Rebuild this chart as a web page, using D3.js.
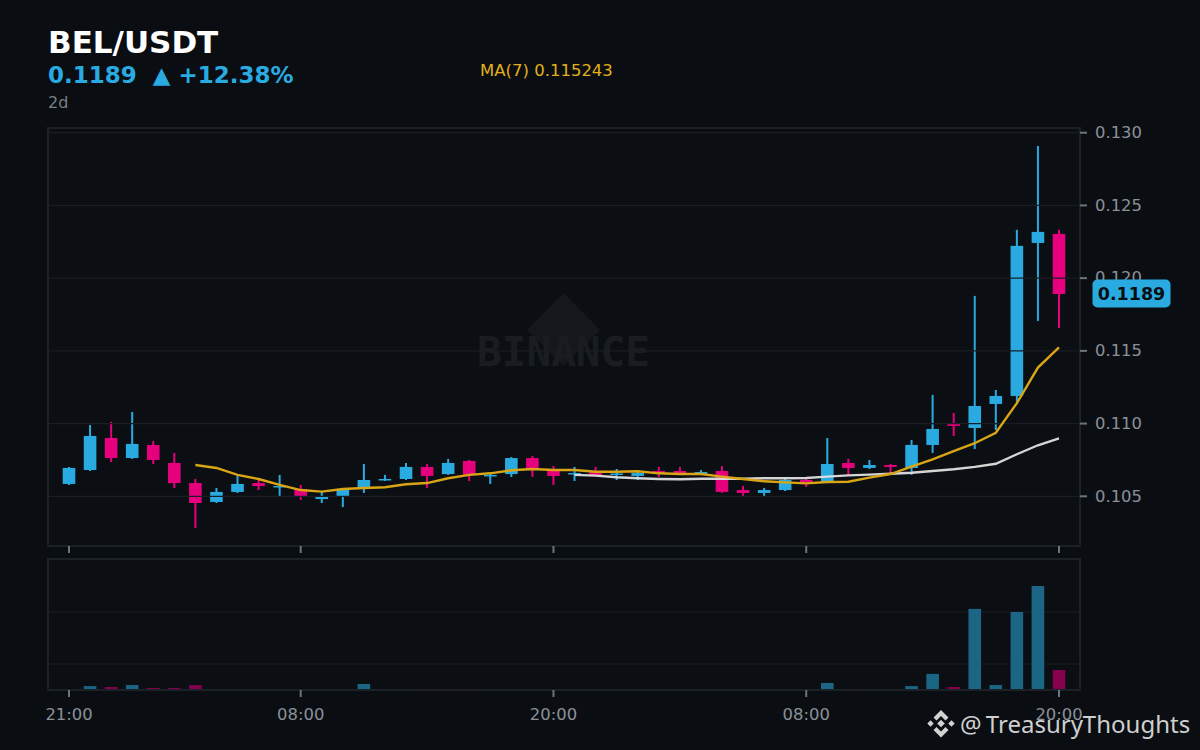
<!DOCTYPE html>
<html>
<head>
<meta charset="utf-8">
<script src="https://cdn.jsdelivr.net/npm/d3@7"></script>
<style>
  html, body { margin: 0; padding: 0; background: #0a0e12; }
  svg { display: block; font-family: "DejaVu Sans", sans-serif; }
</style>
</head>
<body>
<svg id="chart" width="1200" height="750"></svg>
<script>
// hourly candles, 48 of them
const opens = [.10585,.10681,.10901,.10763,.10853,.10729,.10591,.10461,.10530,.10591,.10564,.10550,.10481,.10502,.10557,.10612,.10619,.10702,
  .10653,.10743,.10640,.10653,.10763,.10681,.10653,.10667,.10650,.10640,.10674,.10674,.10653,.10674,.10543,.10523,.10543,.10612,
  .10598,.10729,.10695,.10715,.10695,.10853,.10997,.10970,.11135,.11190,.12242,.12304];
const closes = [.10695,.10915,.10763,.10860,.10750,.10591,.10454,.10530,.10585,.10571,.10571,.10502,.10495,.10550,.10612,.10619,.10702,.10640,
  .10729,.10647,.10647,.10763,.10681,.10640,.10660,.10640,.10657,.10660,.10660,.10653,.10667,.10530,.10523,.10543,.10612,.10591,
  .10722,.10695,.10715,.10702,.10853,.10963,.10984,.11121,.11190,.12222,.12318,.11891];
const highs = [.10702,.10990,.11012,.11080,.10881,.10798,.10619,.10557,.10647,.10612,.10647,.10578,.10530,.10557,.10722,.10647,.10729,.10722,
  .10757,.10750,.10667,.10770,.10777,.10708,.10702,.10702,.10688,.10674,.10702,.10702,.10681,.10708,.10571,.10557,.10626,.10619,
  .10901,.10757,.10750,.10722,.10887,.11197,.11073,.11878,.11231,.12332,.12909,.12332];
const lows = [.10578,.10674,.10736,.10757,.10722,.10557,.10282,.10454,.10523,.10543,.10502,.10475,.10454,.10426,.10523,.10605,.10612,.10557,
  .10647,.10605,.10585,.10633,.10633,.10578,.10605,.10640,.10612,.10612,.10633,.10647,.10647,.10523,.10502,.10495,.10536,.10564,
  .10591,.10647,.10688,.10653,.10647,.10798,.10915,.10825,.10956,.11135,.11706,.11658];
const volumes = [.01,.15,.115,.19,.08,.08,.19,.02,.02,.005,.02,.01,.02,.02,.23,.005,.04,.04,.005,.04,.015,.015,.01,.04,.015,
  .005,.005,.015,.015,.005,.005,.015,.005,.005,.005,.005,.27,.04,.015,.015,.15,.62,.115,3.12,.19,3.0,4.0,.77];

// moving averages, they only start once the window is full
const ma7Start = 6;
const ma7 = [.10715,.10695,.10647,.10619,.10578,.10543,.10532,.10550,.10557,.10562,.10583,.10591,.10624,.10647,.10658,.10679,.10688,.10681,
  .10681,.10669,.10669,.10672,.10658,.10653,.10653,.10635,.10619,.10603,.10596,.10589,.10598,.10600,.10628,.10653,.10704,.10754,.10810,.10865,.10937,.11140,.11385,.11524];
const ma25Start = 24;
const ma25 = [.10647,.10642,.10631,.10624,.10619,.10617,.10621,.10621,.10621,.10624,.10624,.10626,.10635,.10644,.10649,.10655,.10662,.10674,.10686,.10702,.10724,.10789,.10851,.10899];

const priceTicks = [.105,.110,.115,.120,.125,.130];
const volumeTicks = [1,3];
const timeTickIndex = [0,11,23,35,47];
const timeTickLabels = ["21:00","08:00","20:00","08:00","20:00"];

const UP = "#29abe2", DOWN = "#e6007e";
const GRID = "#1a1e24", SPINE = "#1c2127", TICK = "#6b7480", LABEL = "#8b9099";

const svg = d3.select("#chart");

// panels
const price = { left: 48, right: 1080, top: 128, bottom: 546 };
const vol = { left: 48, right: 1080, top: 559, bottom: 690 };

const x = d3.scaleLinear().domain([0, 47]).range([69, 1059]);
const y = d3.scaleLinear().domain([.105, .130]).range([496.3, 132.7]);
const yVol = d3.scaleLinear().domain([0, 5]).range([690, 560]);
const bodyW = 12.6;

svg.append("rect").attr("x", price.left).attr("y", price.top)
  .attr("width", price.right - price.left).attr("height", price.bottom - price.top).attr("fill", "#0b0f13");
svg.append("rect").attr("x", vol.left).attr("y", vol.top)
  .attr("width", vol.right - vol.left).attr("height", vol.bottom - vol.top).attr("fill", "#0b0f13");

// Binance watermark
svg.append("path")
  .attr("d", "M563.5,293L600,330L563.5,366L527,330Z")
  .attr("fill", "#14181c");
svg.append("text").attr("x", 563.5).attr("y", 365.5)
  .attr("text-anchor", "middle")
  .style("font-family", "'DejaVu Sans Mono', monospace")
  .style("font-weight", "bold").style("font-size", "41px")
  .attr("fill", "#191d21").text("BINANCE");

// candles
const idx = d3.range(opens.length);
const candles = svg.append("g");
candles.selectAll("line").data(idx).enter().append("line")
  .attr("x1", d => x(d)).attr("x2", d => x(d))
  .attr("y1", d => y(highs[d])).attr("y2", d => y(lows[d]))
  .attr("stroke", d => closes[d] >= opens[d] ? UP : DOWN)
  .attr("stroke-width", 2);
candles.selectAll("rect").data(idx).enter().append("rect")
  .attr("x", d => x(d) - bodyW / 2)
  .attr("width", bodyW)
  .attr("y", d => y(Math.max(opens[d], closes[d])))
  .attr("height", d => Math.max(1.5, Math.abs(y(opens[d]) - y(closes[d]))))
  .attr("fill", d => closes[d] >= opens[d] ? UP : DOWN);

// grid goes over the candles here
svg.append("g").selectAll("line").data(priceTicks).enter().append("line")
  .attr("x1", price.left).attr("x2", price.right)
  .attr("y1", d => y(d)).attr("y2", d => y(d))
  .attr("stroke", GRID).attr("stroke-width", 1.2);

// MA lines
const maLine = start => d3.line().x((d, i) => x(i + start)).y(d => y(d));
svg.append("path").attr("d", maLine(ma25Start)(ma25))
  .attr("fill", "none").attr("stroke", "#e0e0e0").attr("stroke-width", 2.4).attr("opacity", .95);
svg.append("path").attr("d", maLine(ma7Start)(ma7))
  .attr("fill", "none").attr("stroke", "#d9a514").attr("stroke-width", 2.4);

// volume panel
svg.append("g").selectAll("line").data(volumeTicks).enter().append("line")
  .attr("x1", vol.left).attr("x2", vol.right)
  .attr("y1", d => yVol(d)).attr("y2", d => yVol(d))
  .attr("stroke", GRID).attr("stroke-width", 1.2);
svg.append("g").selectAll("rect").data(idx).enter().append("rect")
  .attr("x", d => x(d) - bodyW / 2)
  .attr("width", bodyW)
  .attr("y", d => yVol(volumes[d]))
  .attr("height", d => yVol(0) - yVol(volumes[d]))
  .attr("fill", d => closes[d] >= opens[d] ? "#1b6585" : "#85004f");

// spines
[price, vol].forEach(p => {
  svg.append("rect").attr("x", p.left).attr("y", p.top)
    .attr("width", p.right - p.left).attr("height", p.bottom - p.top)
    .attr("fill", "none").attr("stroke", SPINE).attr("stroke-width", 2);
});

// axes
const yAxis = d3.axisRight(y).tickValues(priceTicks).tickFormat(d3.format(".3f")).tickSize(7).tickPadding(8).offset(0);
const yG = svg.append("g").attr("transform", "translate(" + price.right + ",0)").call(yAxis);
const xTop = d3.axisBottom(x).tickValues(timeTickIndex).tickFormat("").tickSize(7).offset(0);
const xTopG = svg.append("g").attr("transform", "translate(0," + price.bottom + ")").call(xTop);
const xAxis = d3.axisBottom(x).tickValues(timeTickIndex).tickFormat((d, i) => timeTickLabels[i]).tickSize(7).tickPadding(11).offset(0);
const xG = svg.append("g").attr("transform", "translate(0," + vol.bottom + ")").call(xAxis);
[yG, xTopG, xG].forEach(g => {
  g.select(".domain").remove();
  g.selectAll(".tick line").attr("stroke", TICK).attr("stroke-width", 2);
  g.selectAll(".tick text").attr("fill", LABEL).style("font-size", "16.4px").style("font-family", "'DejaVu Sans', sans-serif");
});

// last price badge
const lastPrice = closes[closes.length - 1];
svg.append("rect").attr("x", 1092.5).attr("y", y(lastPrice) - 14.5)
  .attr("width", 78).attr("height", 28).attr("rx", 5)
  .attr("fill", UP);
svg.append("text").attr("x", 1131.5).attr("y", y(lastPrice) + 6)
  .attr("text-anchor", "middle").attr("fill", "#0a0e12")
  .style("font-weight", "bold").style("font-size", "17.5px").text("0.1189");

// header
svg.append("text").attr("x", 48).attr("y", 53).attr("fill", "#fff")
  .style("font-weight", "bold").style("font-size", "31px").text("BEL/USDT");
svg.append("text").attr("x", 48).attr("y", 83).attr("fill", UP)
  .style("white-space", "pre")
  .style("font-weight", "bold").style("font-size", "23px").text("0.1189  ▲ +12.38%");
svg.append("text").attr("x", 48).attr("y", 108).attr("fill", "#7b8087")
  .style("font-size", "16px").text("2d");
svg.append("text").attr("x", 480).attr("y", 76).attr("fill", "#e3ae1b")
  .style("font-size", "16.5px").text("MA(7) 0.115243");

// credit bottom right, Binance mark built from small diamonds
const mark = svg.append("g").attr("fill", "#d2d2d2");
const diamond = (cx, cy, r) => "M" + cx + "," + (cy - r) + "L" + (cx + r) + "," + cy + "L" + cx + "," + (cy + r) + "L" + (cx - r) + "," + cy + "Z";
mark.append("path").attr("d", diamond(941, 723.5, 3.8));
mark.append("path").attr("d", diamond(930.5, 723.5, 3.2));
mark.append("path").attr("d", diamond(951.5, 723.5, 3.2));
mark.append("path").attr("d", "M941,710L948.5,717.5L945.5,720.5L941,716L936.5,720.5L933.5,717.5Z");
mark.append("path").attr("d", "M941,737.5L948.5,730L945.5,727L941,731.5L936.5,727L933.5,730Z");
svg.append("text").attr("x", 960).attr("y", 733).attr("fill", "#cfcfcf")
  .style("word-spacing", "-2px")
  .style("font-family", "'Noto Sans', sans-serif").style("font-size", "24px").text("@ TreasuryThoughts");
</script>
</body>
</html>
